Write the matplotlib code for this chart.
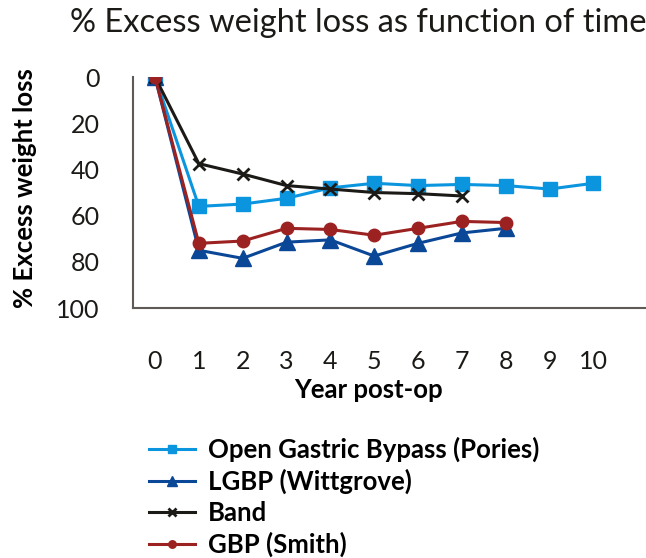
import numpy as np
import matplotlib
matplotlib.use('Agg')
import matplotlib.pyplot as plt

# Fonts
plt.rcParams['font.family'] = ['Lato', 'DejaVu Sans']
TF = 23.5   # title
LBF = 18.5  # axis labels
TS = 18     # ticks
LGF = 18.5  # legend

# Data ---------------------------------------------------------------
years = list(range(0, 11))
pories = [0, 56, 55, 52.5, 48, 46, 47, 46.5, 47, 48.5, 46]
lgbp = [0, 75, 78.5, 71.5, 70.5, 77.5, 72, 67.5, 65.5]
band = [0, 37.5, 42, 47, 48.5, 50, 50.5, 51.5]
smith = [0, 72, 71, 65.5, 66, 68.5, 65.5, 62.5, 63]

labels = ['Open Gastric Bypass (Pories)', 'LGBP (Wittgrove)', 'Band', 'GBP (Smith)']
colors = ['#0b95df', '#0b4797', '#1c1a17', '#9c2222']

fig = plt.figure(figsize=(6.46, 5.58), dpi=100)
ax = fig.add_axes([0.206, 0.448, 0.794, 0.414])

lw = 2.2
ax.plot(years[:len(pories)], pories, color=colors[0], lw=lw, marker='s', ms=10, label=labels[0])
ax.plot(years[:len(lgbp)], lgbp, color=colors[1], lw=lw, marker='^', ms=11, label=labels[1])
ax.plot(years[:len(band)], band, color=colors[2], lw=lw, marker='x', ms=9, mew=2, label=labels[2])
ax.plot(years[:len(smith)], smith, color=colors[3], lw=lw, marker='o', ms=9, label=labels[3])

ax.set_xlim(-0.5, 11.2)
ax.set_ylim(100, 0)
ax.set_xticks(years)
ax.set_yticks([0, 20, 40, 60, 80, 100])
ax.tick_params(axis='both', length=0, labelsize=TS, colors='#1c1a17')
ax.tick_params(axis='x', pad=30)
ax.tick_params(axis='y', pad=24)

for s in ['top', 'right']:
    ax.spines[s].set_visible(False)
for s in ['left', 'bottom']:
    ax.spines[s].set_color('#5f5a55')
    ax.spines[s].set_linewidth(1.5)

ax.set_xlabel('Year post-op', fontsize=LBF, fontweight='bold')
ax.xaxis.set_label_coords(0.459, -0.303)
ax.set_ylabel('% Excess weight loss', fontsize=LBF, fontweight='bold')
ax.yaxis.set_label_coords(-0.187, 0.52)
fig.text(0.108, 0.958, '% Excess weight loss as function of time', fontsize=TF,
         ha='left', va='center', color='#1c1a17')

leg = fig.legend(loc='upper left', bbox_to_anchor=(0.215, 0.236), frameon=False,
                 prop={'weight': 'bold', 'size': LGF},
                 handlelength=1.8, handletextpad=0.5, labelspacing=0.27,
                 markerscale=0.6, borderaxespad=0)

plt.savefig('out.png', dpi=100)
